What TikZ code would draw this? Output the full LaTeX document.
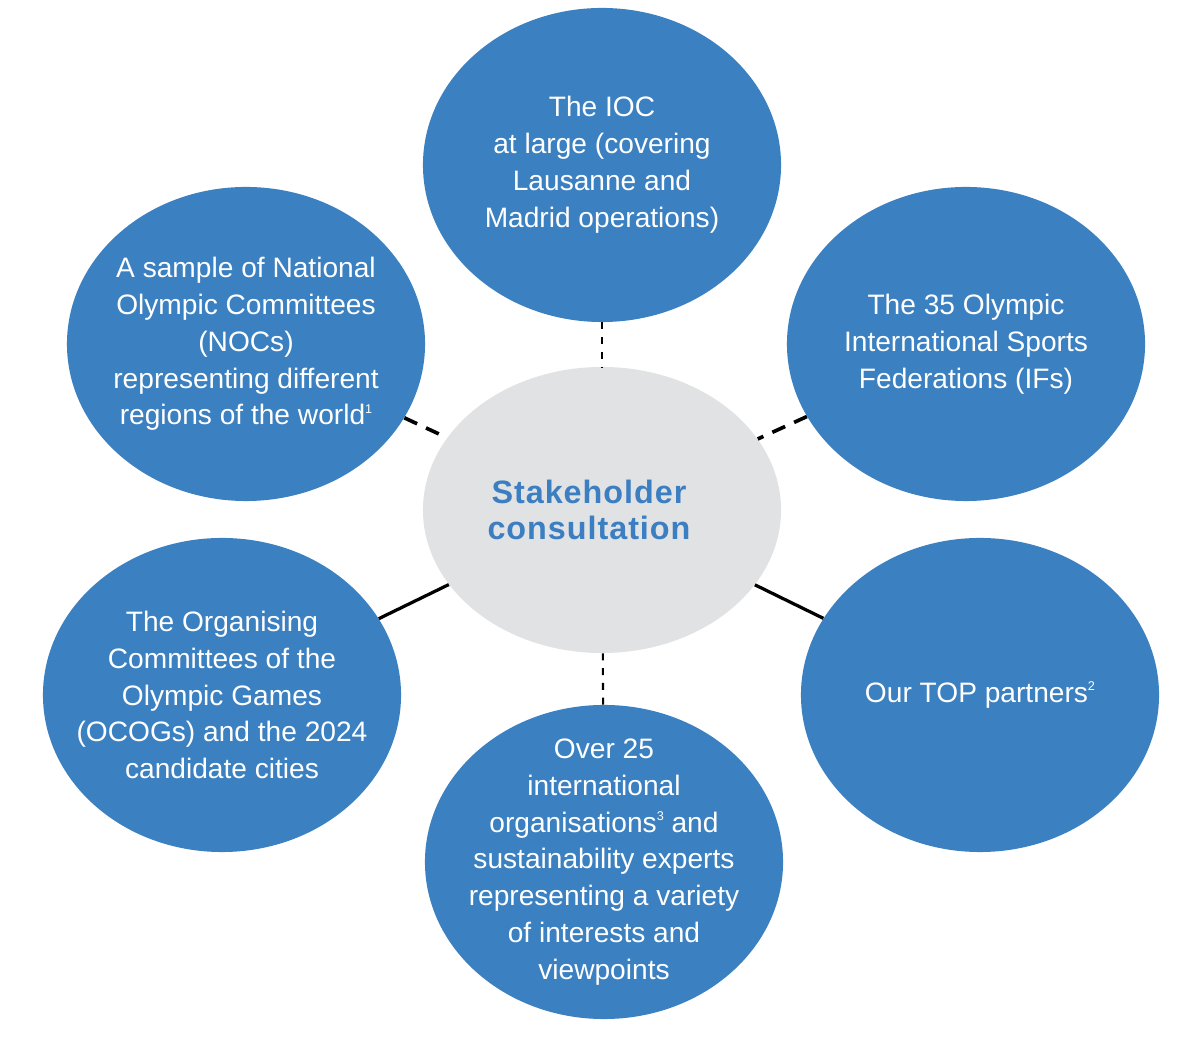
\documentclass[tikz,border=0pt]{standalone}
\usepackage{fontspec}
\setmainfont{Liberation Sans}
\newfontfamily\hubfont[LetterSpace=3]{Liberation Sans}
\usepackage{tikz}
\usetikzlibrary{shapes.geometric}
\usepackage{xcolor}
\definecolor{partyblue}{HTML}{3B80C0}
\definecolor{hubgray}{HTML}{E1E2E4}
\definecolor{hubtext}{HTML}{3B7EC2}
\newcommand{\fnmark}[1]{\raisebox{0.8ex}{\fontsize{9pt}{9pt}\selectfont #1}}

\tikzset{
  party/.style={ellipse, fill=partyblue, text=white, minimum width=8.95cm,
    minimum height=7.85cm, inner sep=-1cm, align=center,
    font=\fontsize{20pt}{26.2pt}\selectfont},
  hub/.style={ellipse, fill=hubgray, text=hubtext, minimum width=8.95cm,
    minimum height=7.15cm, inner sep=-1cm, align=center,
    font=\hubfont\bfseries\fontsize{23pt}{25.6pt}\selectfont},
  thinlink/.style={line width=1.5pt, dash pattern=on 5pt off 5.5pt},
  thicklink/.style={line width=2.6pt, dash pattern=on 10pt off 7pt},
  solidlink/.style={line width=2.3pt}
}

\begin{document}
\begin{tikzpicture}[x=0.025cm,y=0.025cm]
          \useasboundingbox (0,0) rectangle (1180,1040);
          % centre
          \node[hub] (hub) at (602,530) {Stakeholder\hspace*{0.65cm}\\consultation\hspace*{0.65cm}};
          % stakeholders
          \node[party] (ioc) at (602,875) {The IOC\\at large (covering\\Lausanne and\\Madrid operations)};
          \node[party] (noc) at (246,696) {A sample of National\\Olympic Committees\\(NOCs)\\representing different\\regions of the world\fnmark{1}};
          \node[party] (ifs) at (966,696) {The 35 Olympic\\International Sports\\Federations (IFs)};
          \node[party] (ocog) at (222,345) {The Organising\\Committees of the\\Olympic Games\\(OCOGs) and the 2024\\candidate cities};
          \node[party] (top) at (980,345) {Our TOP partners\fnmark{2}};
          \node[party] (orgs) at (604,178) {Over 25\\international\\organisations\fnmark{3}\ and\\sustainability experts\\representing a variety\\of interests and\\viewpoints};
          % links
          \draw[thinlink] (ioc) -- (hub);
          \draw[thinlink] (orgs) -- (hub);
          \draw[thicklink] (noc) -- (hub);
          \draw[thicklink] (ifs) -- (hub);
          \draw[solidlink] (ocog) -- (hub);
          \draw[solidlink] (top) -- (hub);
        \end{tikzpicture}
\end{document}
